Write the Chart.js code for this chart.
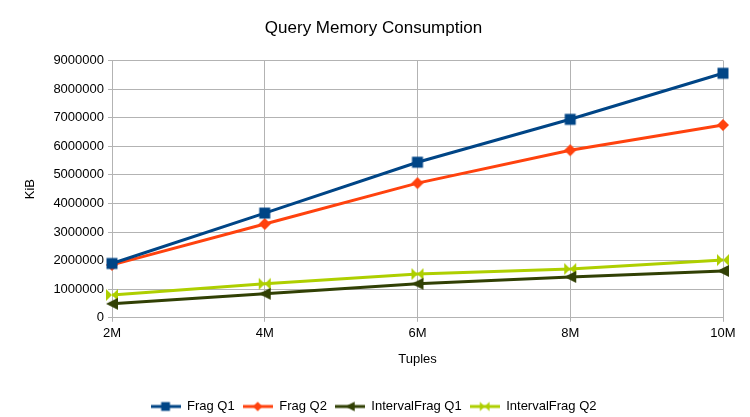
<!DOCTYPE html>
<html>
<head>
<meta charset="utf-8">
<script src="https://cdn.jsdelivr.net/npm/chart.js@4/dist/chart.umd.min.js"></script>
<style>
  html, body { margin: 0; padding: 0; background: #fff; }
  #wrap { width: 750px; height: 417px; position: relative; }
</style>
</head>
<body>
<div id="wrap"><canvas id="memChart" width="750" height="417"></canvas></div>
<script>
// data
const tuples = ['2M', '4M', '6M', '8M', '10M'];
const fragQ1 = [1900000, 3660000, 5440000, 6940000, 8550000];
const fragQ2 = [1850000, 3280000, 4710000, 5860000, 6740000];
const intervalQ1 = [490000, 840000, 1190000, 1430000, 1640000];
const intervalQ2 = [800000, 1190000, 1530000, 1710000, 2020000];
const yTicksMax = 9000000;

const colors = ['#004586', '#ff420e', '#314004', '#aecf00'];

function drawMarker(c, kind, cx, cy, col) {
    c.fillStyle = col;
    c.beginPath();
    if (kind === 'square') { c.rect(cx - 5.5, cy - 5.5, 11, 11); }
    else if (kind === 'diamond') { c.moveTo(cx, cy - 6); c.lineTo(cx + 6, cy); c.lineTo(cx, cy + 6); c.lineTo(cx - 6, cy); c.closePath(); }
    else if (kind === 'left') { c.moveTo(cx - 6, cy); c.lineTo(cx + 6, cy - 6); c.lineTo(cx + 6, cy + 6); c.closePath(); }
    else if (kind === 'bowtie') { c.moveTo(cx - 6, cy - 6); c.lineTo(cx + 6, cy + 6); c.lineTo(cx + 6, cy - 6); c.lineTo(cx - 6, cy + 6); c.closePath(); }
    c.fill();
}

function markerCanvas(kind, col) {
    const cv = document.createElement('canvas');
    cv.width = 14; cv.height = 14;
    drawMarker(cv.getContext('2d'), kind, 7, 7, col);
    return cv;
}

// small line + marker swatch for the legend
function legendCanvas(kind, col) {
    const cv = document.createElement('canvas');
    cv.width = 30; cv.height = 12;
    const c = cv.getContext('2d');
    c.strokeStyle = col; c.lineWidth = 3;
    c.beginPath(); c.moveTo(0, 6); c.lineTo(30, 6); c.stroke();
    c.save(); c.translate(15, 6); c.scale(0.8, 0.8);
    drawMarker(c, kind, 0, 0, col);
    c.restore();
    return cv;
}

const kinds = ['square', 'diamond', 'left', 'bowtie'];
const names = ['Frag Q1', 'Frag Q2', 'IntervalFrag Q1', 'IntervalFrag Q2'];
const series = [fragQ1, fragQ2, intervalQ1, intervalQ2];
const legendIcons = kinds.map((k, i) => legendCanvas(k, colors[i]));

Chart.defaults.font.family = '"Liberation Sans", Arial, sans-serif';
Chart.defaults.color = '#000';

const ctx = document.getElementById('memChart').getContext('2d');
new Chart(ctx, {
    type: 'line',
    data: {
        labels: tuples,
        datasets: series.map((d, i) => ({
            label: names[i],
            data: d,
            borderColor: colors[i],
            backgroundColor: colors[i],
            borderWidth: 3,
            pointStyle: markerCanvas(kinds[i], colors[i]),
            pointRadius: 6,
            tension: 0,
            fill: false
        }))
    },
    options: {
        responsive: false,
        animation: false,
        layout: { padding: { left: 24, right: 27, top: 6, bottom: -6 } },
        plugins: {
            title: { display: true, text: 'Query Memory Consumption', font: { size: 17, weight: 'normal' }, padding: { top: 12, bottom: 22 } },
            tooltip: { enabled: false },
            legend: {
                position: 'bottom',
                labels: {
                    usePointStyle: true,
                    pointStyleWidth: 30,
                    font: { size: 13 },
                    padding: 8,
                    generateLabels: chart => Chart.defaults.plugins.legend.labels.generateLabels(chart).map((it, i) => Object.assign(it, { pointStyle: legendIcons[i] }))
                }
            }
        },
        scales: {
            x: {
                offset: false,
                grid: { color: '#b3b3b3', tickLength: 4 },
                border: { color: '#b3b3b3' },
                ticks: { font: { size: 13 }, padding: 4 },
                title: { display: true, text: 'Tuples', font: { size: 13 }, padding: { top: 6.5, bottom: 24.5 } }
            },
            y: {
                min: 0, max: yTicksMax,
                afterFit: s => { s.width = 88; },
                grid: { color: '#b3b3b3', tickLength: 4 },
                border: { color: '#b3b3b3' },
                ticks: { stepSize: 1000000, font: { size: 13 }, padding: 4, callback: v => String(v) },
                title: { display: true, text: 'KiB', font: { size: 13 }, padding: { top: -1, bottom: 0 } }
            }
        }
    }
});
</script>
</body>
</html>
